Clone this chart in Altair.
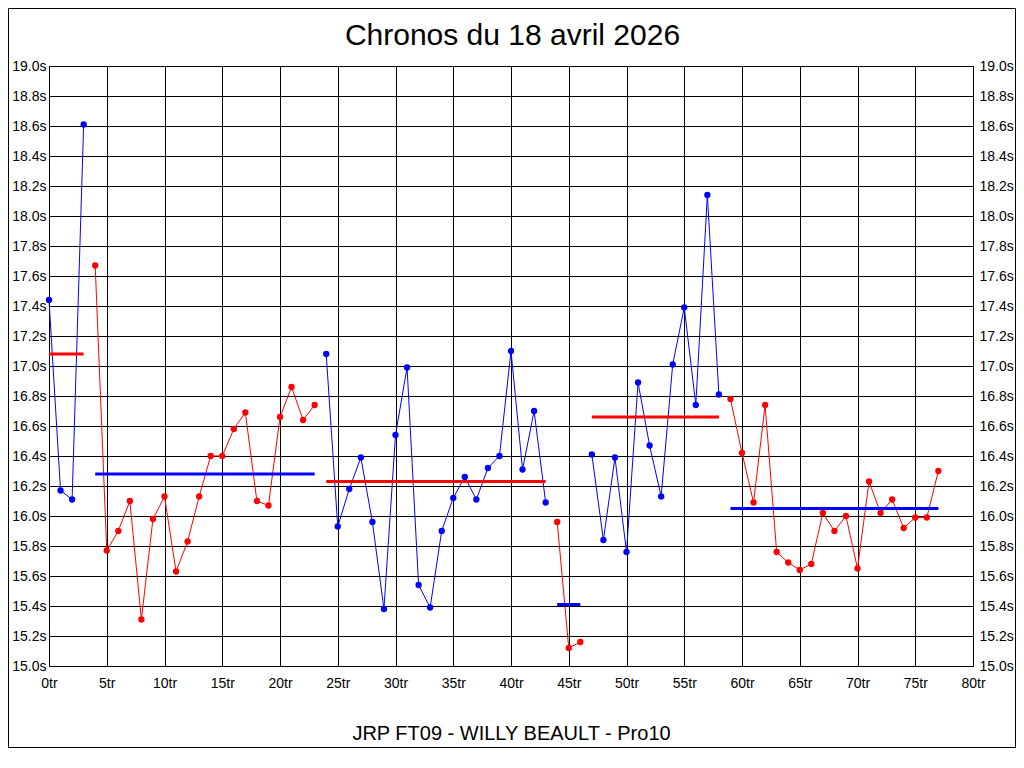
import altair as alt
import pandas as pd

# ---- data ----
times = [
    17.44, 16.17, 16.11, 18.61,
    17.67, 15.77, 15.90, 16.10, 15.31, 15.98, 16.13, 15.63, 15.83, 16.13,
    16.40, 16.40, 16.58, 16.69, 16.10, 16.07, 16.66, 16.86, 16.64, 16.74,
    17.08, 15.93, 16.18, 16.39, 15.96, 15.38, 16.54, 16.99, 15.54, 15.39,
    15.90, 16.12, 16.26, 16.11, 16.32, 16.40, 17.10, 16.31, 16.70, 16.09,
    15.96, 15.12, 15.16,
    16.41, 15.84, 16.39, 15.76, 16.89, 16.47, 16.13, 17.01, 17.39, 16.74,
    18.14, 16.81,
    16.78, 16.42, 16.09, 16.74, 15.76, 15.69, 15.64, 15.68, 16.02, 15.90,
    16.00, 15.65, 16.23, 16.02, 16.11, 15.92, 15.99, 15.99, 16.30,
]
stint_start = [0, 4, 24, 44, 47, 59]
stint_end = [3, 23, 43, 46, 58, 77]
stint_color = ["#0000FF", "#FF0000", "#0000FF", "#FF0000", "#0000FF", "#FF0000"]
avg_color = ["#FF0000", "#0000FF", "#FF0000", "#0000FF", "#FF0000", "#0000FF"]
avg_time = [17.08, 16.28, 16.23, 15.41, 16.66, 16.05]

x_ticks = [0, 5, 10, 15, 20, 25, 30, 35, 40, 45, 50, 55, 60, 65, 70, 75, 80]
y_ticks = [15.0, 15.2, 15.4, 15.6, 15.8, 16.0, 16.2, 16.4, 16.6, 16.8, 17.0,
           17.2, 17.4, 17.6, 17.8, 18.0, 18.2, 18.4, 18.6, 18.8, 19.0]

title_text = "Chronos du 18 avril 2026"
caption_text = "JRP FT09 - WILLY BEAULT - Pro10"

rows = []
for s, (a, b) in enumerate(zip(stint_start, stint_end)):
    for lap in range(a, b + 1):
        rows.append({"lap": lap, "time": times[lap], "stint": s, "color": stint_color[s]})
df = pd.DataFrame(rows)
avg_df = pd.DataFrame({"start": stint_start, "end": stint_end, "avg": avg_time, "color": avg_color})

FONT = "Liberation Sans"
W, H = 924, 600
PL, PT, PR, PB = 41, 58, 43, 82

x_scale = alt.Scale(domain=[0, 80], nice=False, zero=False)
y_scale = alt.Scale(domain=[15, 19], nice=False, zero=False)

x_axis = alt.Axis(
    values=x_ticks, labelExpr="datum.value + 'tr'", grid=True, gridColor="black",
    gridWidth=1, gridOpacity=1, ticks=False, domain=False, labelFont=FONT,
    labelFontSize=14, labelColor="black", labelPadding=10, labelFlush=False,
    labelOverlap=False, labelBound=False, title=caption_text, titleFont=FONT,
    titleFontSize=20, titleFontWeight="normal", titleColor="black", titlePadding=33,
)
y_axis_left = alt.Axis(
    values=y_ticks, labelExpr="format(datum.value, '.1f') + 's'", grid=True,
    gridColor="black", gridWidth=1, gridOpacity=1, ticks=False, domain=False,
    labelFont=FONT, labelFontSize=14, labelColor="black", labelPadding=3,
    labelFlush=False, labelOverlap=False, labelBound=False, title=None, orient="left",
)
y_axis_right = alt.Axis(
    values=y_ticks, labelExpr="format(datum.value, '.1f') + 's'", grid=False,
    ticks=False, domain=False, labelFont=FONT, labelFontSize=14, labelColor="black",
    labelPadding=6, labelFlush=False, labelOverlap=False, labelBound=False,
    title=None, orient="right",
)

X = alt.X("lap:Q", scale=x_scale, axis=x_axis)
Y = alt.Y("time:Q", scale=y_scale, axis=y_axis_left)

lines = alt.Chart(df).mark_line(strokeWidth=1).encode(
    x=X, y=Y, detail="stint:N", color=alt.Color("color:N", scale=None),
)
points = alt.Chart(df).mark_circle(size=40, opacity=1).encode(
    x=X, y=Y, color=alt.Color("color:N", scale=None),
)
avgs = alt.Chart(avg_df).mark_rule(strokeWidth=3).encode(
    x=alt.X("start:Q", scale=x_scale, axis=x_axis),
    x2="end:Q",
    y=alt.Y("avg:Q", scale=y_scale, axis=y_axis_left),
    color=alt.Color("color:N", scale=None),
)
frame = alt.Chart(pd.DataFrame({"k": [0]})).mark_rect(
    filled=False, stroke="black", strokeWidth=1
).encode(
    x=alt.value(-PL + 0.5), x2=alt.value(W + PR - 0.5),
    y=alt.value(-PT + 0.5), y2=alt.value(H + PB - 0.5),
)
title = alt.Chart(pd.DataFrame({"t": [title_text]})).mark_text(
    font=FONT, fontSize=30, align="center", baseline="alphabetic", color="black"
).encode(text="t:N", x=alt.value(463.5), y=alt.value(-21.5))

main = alt.layer(lines, points, avgs, frame, title)

right = alt.Chart(df).mark_point(opacity=0).encode(
    x=X,
    y=alt.Y("time:Q", scale=y_scale, axis=y_axis_right),
)

chart = alt.layer(main, right).resolve_scale(y="independent").properties(
    width=W, height=H,
    autosize=alt.AutoSizeParams(type="none"),
    padding={"left": PL, "top": PT, "right": PR, "bottom": PB},
    background="white",
).configure_view(stroke="black", strokeWidth=1)

chart.save("out.html", embed_options={"renderer": "svg", "actions": False})
